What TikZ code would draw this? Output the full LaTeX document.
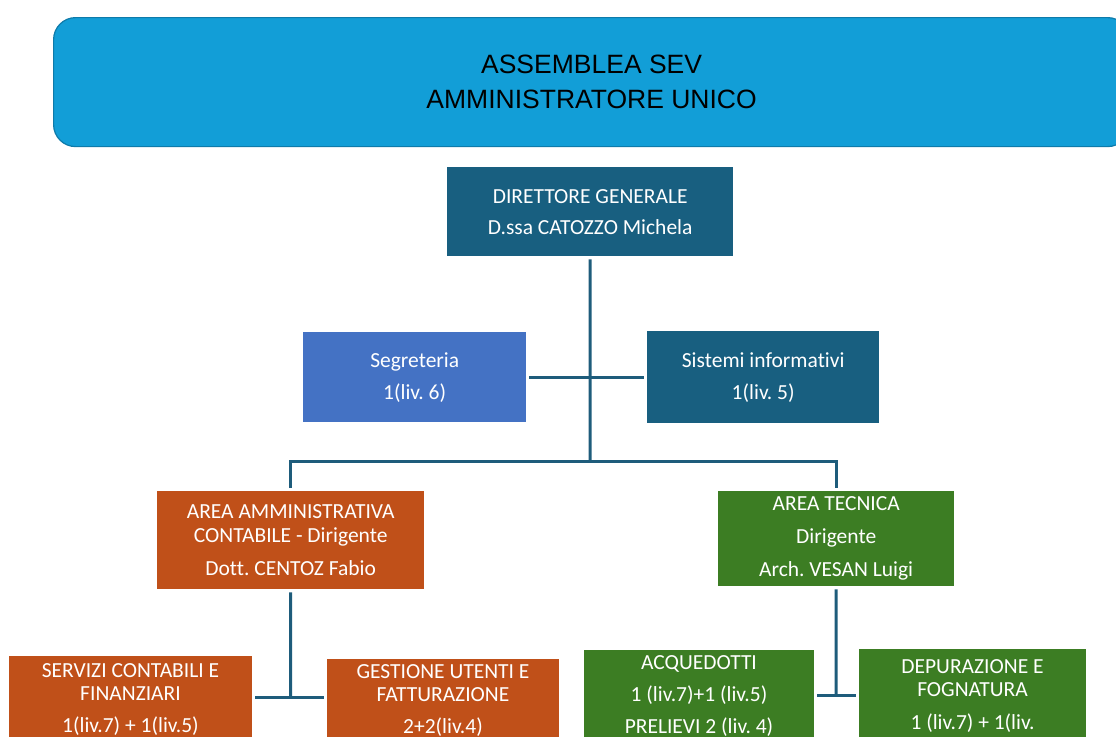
\documentclass[tikz,border=0pt]{standalone}
\usepackage{fontspec}
\setmainfont{Carlito}[Ligatures=NoCommon]
\newfontfamily\arialf{Liberation Sans}
\usetikzlibrary{calc}
\frenchspacing
\definecolor{topblue}{HTML}{129ED7}
\definecolor{topedge}{HTML}{0E7BAA}
\definecolor{dteal}{HTML}{185F80}
\definecolor{segblue}{HTML}{4472C4}
\definecolor{orng}{HTML}{C05019}
\definecolor{grn}{HTML}{3C7D23}
\definecolor{linec}{HTML}{1E5C7B}
\begin{document}
\frenchspacing
\begin{tikzpicture}[x=1pt,y=-1pt,
  box/.style={draw=none, anchor=north west, inner sep=0pt, text=white, align=center,
    font=\fontsize{21.5}{23.5}\selectfont\frenchspacing},
  txt/.style={anchor=north, inner sep=0pt, text=white, align=center,
    font=\fontsize{21.5}{23.5}\selectfont\frenchspacing},
  conn/.style={draw=linec, line width=3pt},
  gap/.style={shorten <=3pt, shorten >=3pt},
]
\useasboundingbox (0,0) rectangle (1116,736);
\clip (0,0) rectangle (1116,736);
% top
\node[draw=topedge, line width=1.2pt, fill=topblue, rounded corners=22pt, anchor=north west,
  minimum width=1076pt, minimum height=129pt, align=center,
  font=\arialf\fontsize{26.5}{35}\selectfont] (top) at (53,17) {ASSEMBLEA SEV\\AMMINISTRATORE UNICO};
% director
\node[box, fill=dteal, minimum width=286pt, minimum height=89pt] (dir) at (447,167)
  {DIRETTORE GENERALE\\[7.5pt]D.ssa CATOZZO Michela};
\node[box, fill=segblue, minimum width=223pt, minimum height=90pt] (seg) at (303,332)
  {Segreteria\\[8.5pt]1(liv. 6)};
\node[box, fill=dteal, minimum width=232pt, minimum height=92pt] (sis) at (647,331)
  {Sistemi informativi\\[8.5pt]1(liv. 5)};
% areas
\node[box, fill=orng, minimum width=267pt, minimum height=98pt] (aam) at (157,491)
  {AREA AMMINISTRATIVA\\CONTABILE - Dirigente\\[9.5pt]Dott. CENTOZ Fabio};
\node[box, fill=grn, minimum width=236pt, minimum height=95pt] (ate) at (718,491)
  {AREA TECNICA\\[9.5pt]Dirigente\\[9.5pt]Arch. VESAN Luigi};
% bottom boxes
\node[box, fill=orng, minimum width=243pt, minimum height=120pt] (serv) at (9,656) {};
\node[txt] (servt) at (130.5,663) {SERVIZI CONTABILI E\\FINANZIARI\\[8.5pt]1(liv.7) + 1(liv.5)};
\node[box, fill=orng, minimum width=232pt, minimum height=120pt] (gest) at (327,659) {};
\node[txt] (gestt) at (443,664) {GESTIONE UTENTI E\\FATTURAZIONE\\[8.5pt]2+2(liv.4)};
\node[box, fill=grn, minimum width=230pt, minimum height=120pt] (acq) at (584,650) {};
\node[txt] (acqt) at (699,655) {ACQUEDOTTI\\[8.5pt]1 (liv.7)+1 (liv.5)\\[8.5pt]PRELIEVI 2 (liv. 4)};
\node[box, fill=grn, minimum width=227pt, minimum height=120pt] (dep) at (859,649) {};
\node[txt] (dept) at (972.5,659) {DEPURAZIONE E\\FOGNATURA\\[9.5pt]1 (liv.7) + 1(liv.};
% connectors
\coordinate (bus) at (590,461);
\coordinate (j1) at (290.5,697);
\coordinate (j2) at (836,695);
\draw[conn, shorten <=3pt] (dir.south) -- (bus);
\draw[conn, gap] (seg.east) -- (sis.west);
\draw[conn, gap] (aam.north) |- (bus) -| (ate.north);
\draw[conn, shorten <=3pt] (aam.south) -- (j1);
\draw[conn, gap] (serv.east |- j1) -- (gest.west |- j1);
\draw[conn, shorten <=3pt] (ate.south) -- (j2);
\draw[conn, gap] (acq.east |- j2) -- (dep.west |- j2);
\end{tikzpicture}
\end{document}
